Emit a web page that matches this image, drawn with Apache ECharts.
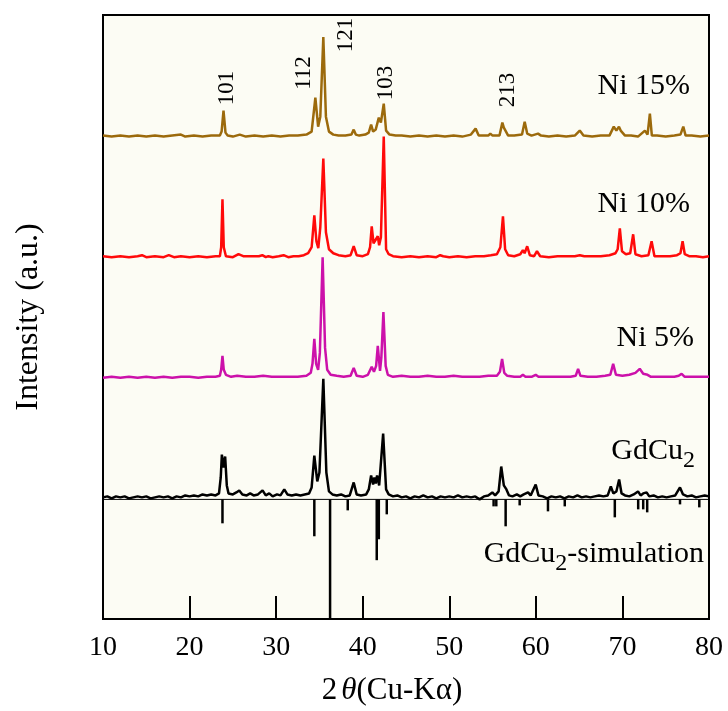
<!DOCTYPE html>
<html>
<head>
<meta charset="utf-8">
<script src="https://cdn.jsdelivr.net/npm/echarts@6/dist/echarts.min.js"></script>
<style>
  html, body { margin: 0; padding: 0; background: #fff; }
  #chart { width: 728px; height: 711px; }
</style>
</head>
<body>
<div id="chart"></div>
<script>
// 2theta range and tick labels
const xTicks = [10, 20, 30, 40, 50, 60, 70, 80];

// vertical offsets of each pattern (arbitrary units)
const offNi15 = 484;
const offNi10 = 363;
const offNi5 = 242;
const offGd = 122;
const simBase = 120;

// [2theta, intensity above own baseline]
const ni15 = [[10,1],[11,0],[12,1],[13,0],[14,1],[15,0],[16,1],[17,0],[18,1],[19,2],[19.5,0],[20.5,1],[21.5,0],[22.5,1],[23.5,1],[23.7,5],[23.92,26],[24.15,4],[24.4,1],[25,0],[25.8,2],[26.5,0],[27.5,1],[28.5,0],[29.5,1],[30.5,0],[31.5,1],[32.5,1],[33.5,2],[34.1,5],[34.53,39],[34.85,10],[35.1,20],[35.45,100],[35.75,20],[36.1,5],[36.6,2],[37.2,1],[38,1],[38.7,2],[38.96,7],[39.2,2],[39.6,1],[40.3,2],[40.7,4],[40.97,12],[41.2,5],[41.5,7],[41.86,19],[42.1,14],[42.43,33],[42.7,6],[43.1,2],[43.8,1],[44.5,1],[45.5,0],[46.5,1],[47.5,0],[48.5,1],[49.5,0],[50.5,1],[51.5,0],[52.5,2],[53.04,8],[53.4,1],[54,1],[54.5,1],[54.74,3],[55,1],[55.8,1],[56.13,14],[56.3,9],[56.5,10],[56.8,1],[57.5,1],[58.4,2],[58.71,15],[59,3],[59.5,1],[60.25,3],[60.6,1],[61.5,0],[62.5,1],[63.5,0],[64.5,1],[65.07,6],[65.5,1],[66.5,0],[67.5,1],[68.5,1],[69.0,10],[69.3,6],[69.6,10],[69.8,6],[70.0,8],[70.3,1],[71,1],[71.8,0],[72.6,6],[72.9,2],[73.17,23],[73.4,1],[74,1],[75,0],[76,1],[76.7,2],[77.03,10],[77.3,1],[78,1],[79,0],[80,1]];

const ni10 = [[10,1],[11,0],[12,1],[13,0],[14,1],[14.5,2],[15,0],[16,1],[17,0],[17.6,2],[18.2,0],[19,1],[20,0],[21,1],[22,0],[23,1],[23.5,1],[23.65,10],[23.8,58],[23.95,10],[24.2,1],[25,0],[25.65,3],[26.2,1],[27,1],[28,1],[28.4,2],[28.8,0],[29.1,1],[29.6,0],[30.3,1],[30.86,2],[31.4,0],[32,1],[32.6,1],[33.2,2],[33.7,4],[34.1,10],[34.41,42],[34.65,16],[34.87,9],[35.1,30],[35.45,99],[35.75,25],[36.1,8],[36.6,4],[37.2,2],[38,1],[38.6,2],[38.96,11],[39.3,2],[40,1],[40.6,3],[40.85,10],[41.04,31],[41.25,14],[41.45,12],[41.74,21],[41.9,12],[42.1,20],[42.43,121],[42.7,8],[43,3],[43.5,1],[44.5,0],[45.5,1],[46.5,0],[47.5,1],[48.5,0],[48.95,2],[49.3,1],[50,0],[51,1],[52,0],[53,1],[54,1],[54.8,2],[55.5,3],[55.9,10],[56.2,41],[56.45,8],[56.8,2],[57.5,1],[58.2,3],[58.5,7],[58.7,4],[59.0,11],[59.3,2],[59.8,1],[60.13,6],[60.5,1],[61.5,0],[62.5,1],[63.5,1],[64.5,1],[65.07,2],[65.6,1],[66.5,1],[67.5,1],[68.5,2],[69.2,4],[69.45,8],[69.7,29],[69.95,6],[70.4,3],[70.9,4],[71.24,23],[71.5,3],[72.2,1],[73.0,2],[73.37,16],[73.7,1],[74.5,1],[75.5,1],[76.3,2],[76.7,4],[76.95,16],[77.2,3],[77.7,1],[78.5,1],[79.3,0],[80,1]];

const ni5 = [[10,0],[11,1],[12,0],[13,1],[14,0],[15,1],[16,0],[17,1],[18,0],[19,1],[20,1],[21,0],[22,1],[23,1],[23.5,2],[23.65,8],[23.8,22],[23.95,8],[24.2,3],[24.8,1],[25.5,2],[26.5,1],[27.5,1],[28.5,2],[29.5,1],[30.5,1],[31.5,1],[32.5,1],[33.5,2],[34.0,5],[34.2,14],[34.41,39],[34.62,14],[34.85,8],[35.05,25],[35.37,121],[35.65,30],[35.9,8],[36.3,3],[37,2],[37.8,1],[38.6,2],[38.96,10],[39.3,2],[40,1],[40.6,3],[41.04,11],[41.3,6],[41.55,12],[41.74,32],[42.0,7],[42.15,20],[42.39,66],[42.65,12],[42.9,3],[43.5,1],[44.5,2],[45.5,1],[46.5,1],[47.5,2],[48.5,1],[49.5,1],[50.5,2],[51.5,1],[52.5,1],[53.5,1],[54.5,2],[55.5,2],[55.85,6],[56.1,19],[56.35,5],[56.7,2],[57.5,1],[58.2,1],[58.5,3],[58.8,1],[59.5,1],[59.98,3],[60.3,1],[61,1],[62,1],[63,1],[64,1],[64.6,2],[64.88,9],[65.15,2],[66,1],[67,1],[68,2],[68.6,3],[68.93,14],[69.25,3],[70,2],[70.8,3],[71.5,5],[72.0,9],[72.4,4],[72.9,3],[73.3,1],[74,1],[75,1],[76,1],[76.5,2],[76.84,4],[77.2,1],[78,1],[79,1],[80,1]];

const gdcu2 = [[10,0],[10.5,1],[11,-1],[11.5,1],[12,0],[12.5,1],[13,-1],[13.5,0],[14,1],[14.5,0],[15,1],[15.5,-1],[16,0],[16.5,1],[17,0],[17.5,1],[18,-1],[18.5,1],[19,0],[19.5,2],[20,1],[20.5,2],[21,1],[21.5,3],[22,2],[22.5,3],[23,2],[23.4,4],[23.6,20],[23.73,43],[23.92,30],[24.11,41],[24.3,12],[24.5,4],[25,3],[25.4,5],[25.74,7],[26.1,3],[26.6,2],[27,4],[27.4,2],[27.9,3],[28.43,7],[28.8,2],[29.2,4],[29.6,1],[30.1,3],[30.5,2],[30.94,8],[31.3,3],[31.8,2],[32.3,3],[32.8,2],[33.3,3],[33.8,4],[34.1,10],[34.41,42],[34.75,16],[35.0,25],[35.45,119],[35.8,25],[36.1,6],[36.5,3],[37,2],[37.5,3],[38,1],[38.5,2],[38.96,15],[39.3,3],[39.8,2],[40.4,3],[40.7,8],[40.97,22],[41.2,13],[41.35,20],[41.5,14],[41.66,22],[41.9,12],[42.36,64],[42.7,8],[43.0,3],[43.5,1],[44,2],[44.5,0],[45,1],[45.5,-1],[46,1],[46.5,0],[47,2],[47.5,0],[48,1],[48.5,-1],[49,1],[49.5,0],[50,1],[50.5,0],[51,2],[51.5,0],[52,1],[52.5,0],[53,1],[53.5,-2],[54,1],[54.5,2],[54.97,5],[55.3,2],[55.7,6],[56.0,31],[56.3,12],[56.6,8],[56.9,2],[57.3,1],[57.8,3],[58.2,1],[58.6,3],[59.1,5],[59.4,2],[59.98,13],[60.3,2],[60.8,1],[61.3,-1],[61.8,1],[62.3,0],[62.8,1],[63.3,-1],[63.8,1],[64.3,0],[64.8,2],[65.3,0],[65.8,1],[66.3,0],[66.8,1],[67.3,2],[67.8,1],[68.3,2],[68.66,11],[68.95,4],[69.3,6],[69.62,18],[69.9,4],[70.3,2],[70.8,1],[71.3,3],[71.8,6],[72.1,2],[72.4,4],[72.79,5],[73.1,1],[73.6,2],[74.1,0],[74.6,1],[75.1,0],[75.6,1],[76.1,2],[76.65,10],[77,3],[77.5,1],[78,2],[78.5,0],[79,1],[79.5,2],[80,1]];

// simulated reflections: position and length (drawn downward)
const simPos = [23.8, 34.41, 36.23, 38.27, 41.62, 41.86, 42.78, 55.12, 55.43, 56.51, 58.13, 61.4, 63.34, 69.12, 71.82, 72.4, 72.86, 76.65, 78.88];
const simLen = [24, 37, 120, 11, 61, 40, 15, 7, 7, 27, 6, 12, 7, 18, 10, 10, 13, 5, 8];

// peak index labels
const hklText = ['101', '112', '121', '103', '213'];

const serif = 'Liberation Serif, Times New Roman, serif';

function shift(arr, off) {
  return arr.map(p => [p[0], p[1] + off]);
}

var chart = echarts.init(document.getElementById('chart'));

const hklPos = [[227, 88], [304, 73], [346, 35], [386, 83], [508, 90]];
const graphics = hklText.map((t, i) => ({
  type: 'text',
  x: hklPos[i][0],
  y: hklPos[i][1],
  rotation: Math.PI / 2,
  z: 100,
  style: {
    text: t, fill: '#000', font: '23px ' + serif,
    align: 'center', verticalAlign: 'middle',
    textAlign: 'center', textVerticalAlign: 'middle'
  }
}));

function label(x, y, text, rich) {
  return {
    type: 'text', x: x, y: y, z: 100,
    style: {
      text: text, fill: '#000', font: '30px ' + serif,
      fontSize: 30, fontFamily: serif,
      align: 'right', verticalAlign: 'middle',
      textAlign: 'right', textVerticalAlign: 'middle',
      rich: rich
    }
  };
}
// subscript: top padding pushes the small "2" down inside its token
const subRich = {
  a: { fontSize: 30, fontFamily: serif, fill: '#000', lineHeight: 30 },
  s: { fontSize: 24, fontFamily: serif, fill: '#000', lineHeight: 24, padding: [20, 0, 0, 0] }
};
graphics.push(label(690, 86, 'Ni 15%'));
graphics.push(label(690, 204, 'Ni 10%'));
graphics.push(label(694, 338, 'Ni 5%'));
graphics.push(label(695, 451, '{a|GdCu}{s|2}', subRich));
graphics.push(label(704, 554, '{a|GdCu}{s|2}{a|-simulation}', subRich));

var option = {
  animation: false,
  backgroundColor: '#ffffff',
  grid: {
    left: 103, right: 19, top: 15, bottom: 91,
    show: true, backgroundColor: '#fcfcf4',
    borderColor: '#000', borderWidth: 2
  },
  xAxis: {
    type: 'value', min: 10, max: 80, interval: 10,
    name: '2{i|θ}(Cu-Kα)',
    nameLocation: 'middle', nameGap: 56,
    nameTextStyle: {
      fontFamily: serif, fontSize: 31, color: '#000',
      padding: [0, 28, 0, 0],
      rich: { i: { fontFamily: serif, fontSize: 31, fontStyle: 'italic', color: '#000', padding: [0, 0, 0, 4] } }
    },
    axisLine: { show: true, lineStyle: { color: '#000', width: 2 } },
    axisTick: { show: true, inside: true, length: 23, lineStyle: { color: '#000', width: 2 } },
    axisLabel: { fontFamily: serif, fontSize: 28, color: '#000', margin: 15,
      formatter: v => xTicks.indexOf(v) >= 0 ? String(v) : '' },
    splitLine: { show: false }
  },
  yAxis: {
    type: 'value', min: 0, max: 606,
    name: 'Intensity (a.u.)',
    nameLocation: 'middle', nameGap: 58,
    nameTextStyle: { fontFamily: serif, fontSize: 32, color: '#000' },
    axisLine: { show: true, lineStyle: { color: '#000', width: 2 } },
    axisTick: { show: false },
    axisLabel: { show: false },
    splitLine: { show: false }
  },
  series: [
    {
      name: 'sim-base', type: 'line', symbol: 'none',
      data: [[10, simBase], [80, simBase]],
      lineStyle: { color: '#000', width: 1 }
    },
    {
      name: 'GdCu2-simulation', type: 'custom',
      data: simPos.map((p, i) => [p, simLen[i]]),
      renderItem: function (params, api) {
        const a = api.coord([api.value(0), simBase]);
        const b = api.coord([api.value(0), simBase - api.value(1)]);
        return {
          type: 'line',
          shape: { x1: a[0], y1: a[1], x2: b[0], y2: b[1] },
          style: { stroke: '#000', lineWidth: 2.5 }
        };
      }
    },
    {
      name: 'GdCu2', type: 'line', symbol: 'none', z: 3,
      data: shift(gdcu2, offGd),
      lineStyle: { color: '#000', width: 2.5 }
    },
    {
      name: 'Ni 5%', type: 'line', symbol: 'none',
      data: shift(ni5, offNi5),
      lineStyle: { color: '#cc11aa', width: 2.5 }
    },
    {
      name: 'Ni 10%', type: 'line', symbol: 'none',
      data: shift(ni10, offNi10),
      lineStyle: { color: '#ff0a0a', width: 2.5 }
    },
    {
      name: 'Ni 15%', type: 'line', symbol: 'none',
      data: shift(ni15, offNi15),
      lineStyle: { color: '#9c6a0c', width: 2.5 }
    }
  ],
  graphic: graphics
};

chart.setOption(option);
</script>
</body>
</html>
